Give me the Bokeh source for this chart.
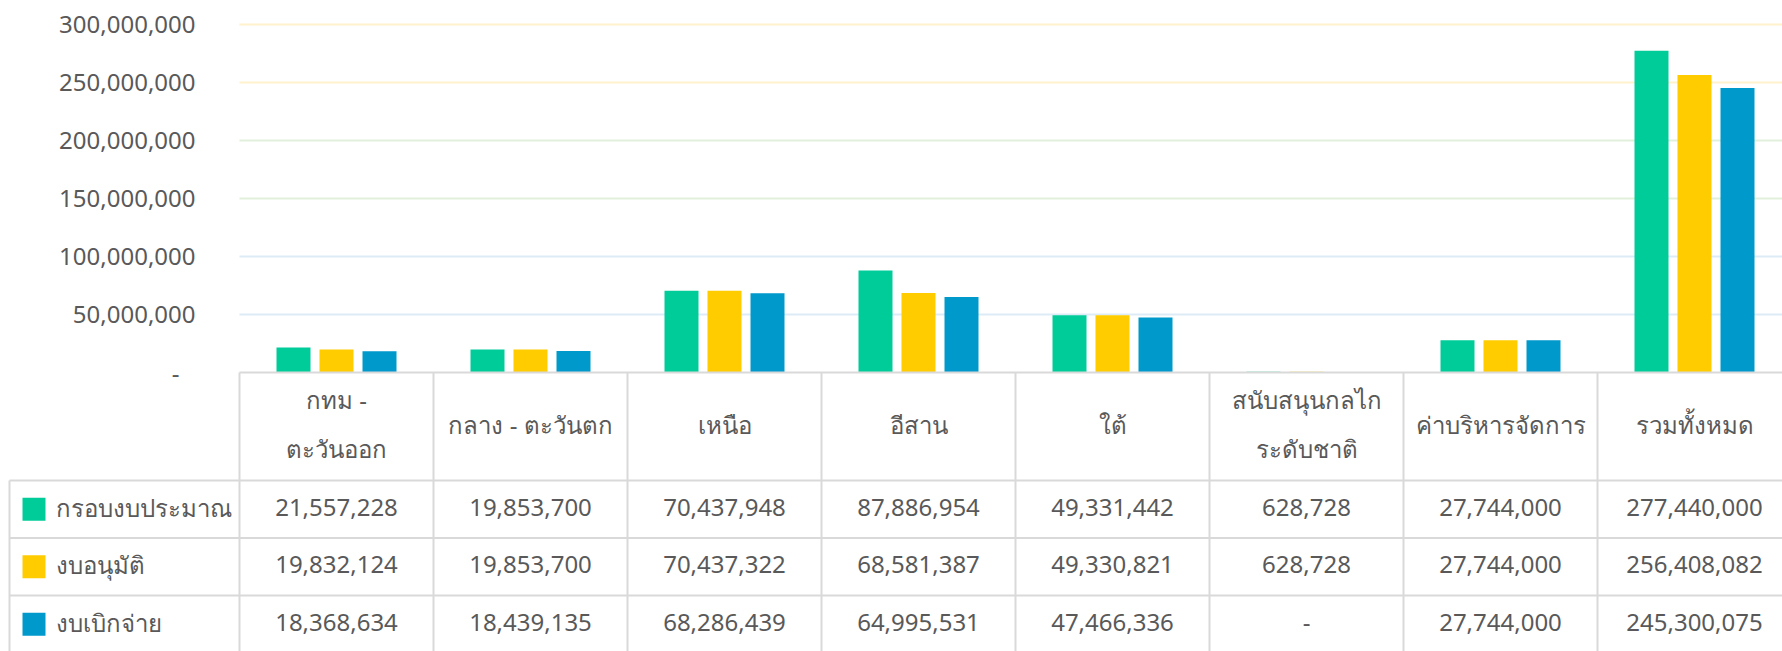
import numpy as np
from bokeh.plotting import figure
from bokeh.models import ColumnDataSource, Range1d
from bokeh.transform import dodge
from bokeh.core.properties import value
from bokeh.embed import file_html
from bokeh.resources import INLINE

# ---------------- data ----------------
categories = ["กทม -\nตะวันออก", "กลาง - ตะวันตก", "เหนือ", "อีสาน", "ใต้",
              "สนับสนุนกลไก\nระดับชาติ", "ค่าบริหารจัดการ", "รวมทั้งหมด"]
series_names = ["กรอบงบประมาณ", "งบอนุมัติ", "งบเบิกจ่าย"]
budget_frame = [21557228, 19853700, 70437948, 87886954, 49331442, 628728, 27744000, 277440000]
approved = [19832124, 19853700, 70437322, 68581387, 49330821, 628728, 27744000, 256408082]
disbursed = [18368634, 18439135, 68286439, 64995531, 47466336, 0, 27744000, 245300075]
series_colors = ["#00CC99", "#FFCC00", "#0099CC"]
y_ticks = [0, 50000000, 100000000, 150000000, 200000000, 250000000, 300000000]
y_tick_labels = ["-\u2007\u200A", "50,000,000", "100,000,000", "150,000,000",
                 "200,000,000", "250,000,000", "300,000,000"]
grid_colors = ["#DDEBF7", "#DDEBF7", "#E2EFDA", "#E2EFDA", "#FFF2CC", "#FFF2CC"]

FONT = "Noto Sans"
TXT = "#595959"
LINE = "#D9D9D9"
FS = "24px"

n = len(categories)
W, H = 1782, 651
X0 = 239                        # px of first category column's left edge
CW = 194                        # column width in px
ZERO = 372                      # px from top to value 0 / table top
TOPV = 24                       # px from top to 300M
u = 300000000 / (ZERO - TOPV)   # value per px

p = figure(width=W, height=H,
           x_range=Range1d(-X0 / CW, (W - X0) / CW),
           y_range=Range1d(-(H - ZERO) * u, 300000000 + TOPV * u),
           output_backend="svg", toolbar_location=None,
           x_axis_location=None, y_axis_location=None, min_border=0)
p.extra_y_ranges = {"tab": Range1d(start=H - ZERO, end=-ZERO)}
p.outline_line_color = None
p.grid.visible = False
p.background_fill_color = "white"
p.border_fill_color = "white"

def px(v):
    return (v - X0) / CW

def pw(w):
    return w / CW

# ---------------- chart ----------------
gt = y_ticks[1:]
p.segment(x0=[0] * len(gt), y0=gt, x1=[n] * len(gt), y1=gt,
          line_color=grid_colors, line_width=2)

p.text(x=[px(195)] * len(y_ticks), y=y_ticks, text=y_tick_labels,
       text_align="right", text_baseline="middle",
       text_font=value(FONT), text_font_size=FS, text_color=TXT)

src = ColumnDataSource(dict(x=np.arange(n) + 0.5, s0=budget_frame, s1=approved, s2=disbursed))
bar_w = pw(34)
step = pw(43)
for k, col in enumerate(series_colors):
    p.vbar(x=dodge("x", (k - 1) * step), top=f"s{k}", bottom=0, width=bar_w,
           source=src, fill_color=col, line_color=None)

# ---------------- table ----------------
TAB_H = H - ZERO
HEAD = 108
ROW = 57.5
x_leg = px(9)

hx0 = [0] + [x_leg] * 3
hy = [0, HEAD, HEAD + ROW, HEAD + 2 * ROW]
p.segment(x0=hx0, y0=hy, x1=[n] * 4, y1=hy, line_color=LINE, line_width=2, y_range_name="tab")
vx = list(range(n))
p.segment(x0=vx, y0=[0] * n, x1=vx, y1=[TAB_H] * n, line_color=LINE, line_width=2, y_range_name="tab")
p.segment(x0=[x_leg], y0=[HEAD], x1=[x_leg], y1=[TAB_H], line_color=LINE, line_width=2, y_range_name="tab")

hx, hyy, ht = [], [], []
for i, c in enumerate(categories):
    parts = c.split("\n")
    if len(parts) == 1:
        hx.append(i + 0.5); hyy.append(52); ht.append(parts[0])
    else:
        for j, part in enumerate(parts):
            hx.append(i + 0.5); hyy.append(27 + 49 * j); ht.append(part)
p.text(x=hx, y=hyy, text=ht, text_align="center", text_baseline="middle",
       text_font=value(FONT), text_font_size=FS, text_color=TXT, y_range_name="tab")

all_series = [budget_frame, approved, disbursed]
row_c = [HEAD + ROW * r + ROW / 2 for r in range(3)]
nx, ny, nt = [], [], []
for r, vals in enumerate(all_series):
    for i, v in enumerate(vals):
        nx.append(i + 0.5); ny.append(row_c[r] - 2); nt.append(f"{v:,}" if v else "-")
p.text(x=nx, y=ny, text=nt, text_align="center", text_baseline="middle",
       text_font=value(FONT), text_font_size=FS, text_color=TXT, y_range_name="tab")

p.scatter(x=[px(33.5)] * 3, y=row_c, marker="square", size=23,
          fill_color=series_colors, line_color=None, y_range_name="tab")
p.text(x=[px(55)] * 3, y=[c - 2 for c in row_c], text=series_names, text_align="left",
       text_baseline="middle", text_font=value(FONT), text_font_size=FS, text_color=TXT,
       y_range_name="tab")

open("out.html", "w").write(file_html(p, INLINE))
